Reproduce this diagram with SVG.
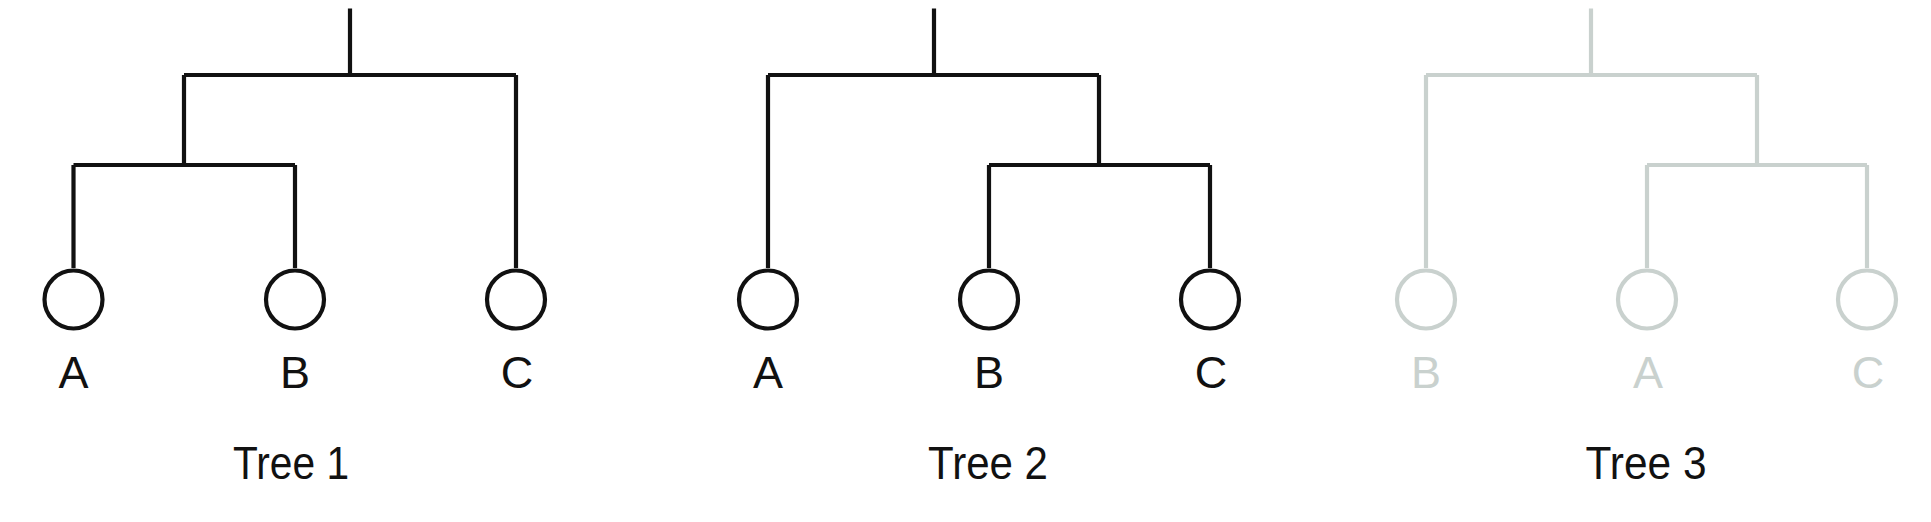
<svg xmlns="http://www.w3.org/2000/svg" width="1931" height="522" viewBox="0 0 1931 522">
<style>
.e{fill:none;stroke:#111;stroke-width:4.2;stroke-linejoin:miter;stroke-linecap:butt}
.g .e,.g.e{stroke:#c9d1ce}
.n{fill:#fff;stroke:#111;stroke-width:4.2}
.g .n{stroke:#c9d1ce}
.l{font-family:"Liberation Sans",Arial,sans-serif;font-size:45px;fill:#111;text-anchor:middle}
.g .l{fill:#c9d1ce}
.t{font-family:"Liberation Sans",Arial,sans-serif;font-size:46px;fill:#111;text-anchor:middle}
</style>
<rect width="1931" height="522" fill="#fff"/>
<g id="connectors">
  <g id="tree1-edges">
    <path class="e" d="M350,8.5V75M184,75H516M184,75V165M73.5,165H295M73.5,165V268M295,165V268M516,75V268"/>
  </g>
  <g id="tree2-edges">
    <path class="e" d="M934,8.5V75M768,75H1099M768,75V268M1099,75V165M989,165H1210M989,165V268M1210,165V268"/>
  </g>
  <g id="tree3-edges" class="g">
    <path class="e" d="M1591,8.5V75M1426,75H1757M1426,75V268M1757,75V165M1647,165H1867M1647,165V268M1867,165V268"/>
  </g>
</g>
<g id="tree1">
  <g id="t1-A"><circle class="n" cx="73.5" cy="299.5" r="29"/><text class="l" x="73.5" y="388">A</text></g>
  <g id="t1-B"><circle class="n" cx="295" cy="299.5" r="29"/><text class="l" x="295" y="388">B</text></g>
  <g id="t1-C"><circle class="n" cx="516" cy="299.5" r="29"/><text class="l" x="517" y="388">C</text></g>
  <text id="t1-label" class="t" x="291" y="479" textLength="116" lengthAdjust="spacingAndGlyphs">Tree 1</text>
</g>
<g id="tree2">
  <g id="t2-A"><circle class="n" cx="768" cy="299.5" r="29"/><text class="l" x="768" y="388">A</text></g>
  <g id="t2-B"><circle class="n" cx="989" cy="299.5" r="29"/><text class="l" x="989" y="388">B</text></g>
  <g id="t2-C"><circle class="n" cx="1210" cy="299.5" r="29"/><text class="l" x="1211" y="388">C</text></g>
  <text id="t2-label" class="t" x="988" y="479" textLength="120" lengthAdjust="spacingAndGlyphs">Tree 2</text>
</g>
<g id="tree3" class="g">
  <g id="t3-B"><circle class="n" cx="1426" cy="299.5" r="29"/><text class="l" x="1426" y="388">B</text></g>
  <g id="t3-A"><circle class="n" cx="1647" cy="299.5" r="29"/><text class="l" x="1648" y="388">A</text></g>
  <g id="t3-C"><circle class="n" cx="1867" cy="299.5" r="29"/><text class="l" x="1868" y="388">C</text></g>
  <text id="t3-label" class="t" x="1646" y="479" textLength="121" lengthAdjust="spacingAndGlyphs">Tree 3</text>
</g>
</svg>
